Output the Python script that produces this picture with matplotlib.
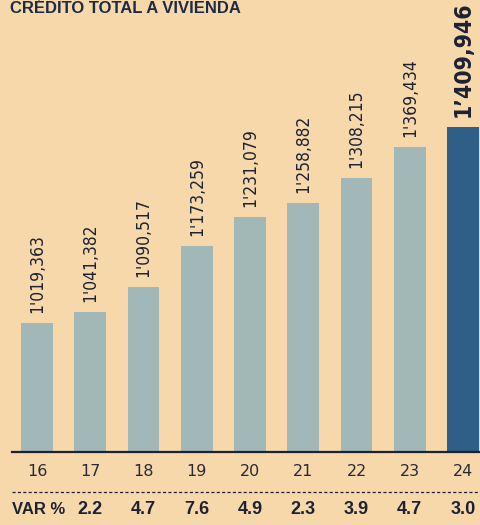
import matplotlib
matplotlib.use('Agg')
import matplotlib.pyplot as plt
import matplotlib.transforms as mtransforms
from matplotlib.lines import Line2D

# datos: credito total a vivienda por año
anios = ['16', '17', '18', '19', '20', '21', '22', '23', '24']
credito = [1019363, 1041382, 1090517, 1173259, 1231079, 1258882, 1308215, 1369434, 1409946]
etiquetas = ["1'019,363", "1'041,382", "1'090,517", "1'173,259", "1'231,079",
             "1'258,882", "1'308,215", "1'369,434", "1\u2019409,946"]
var_pct = ['2.2', '4.7', '7.6', '4.9', '2.3', '3.9', '4.7', '3.0']

FONDO = '#f6d8aa'
AZUL_CLARO = '#a2b8b8'
AZUL_OSCURO = '#2f5e86'
TINTA = '#1c2233'


def draw():
    fig = plt.figure(figsize=(4.81, 5.25), dpi=100, facecolor=FONDO)
    ax = fig.add_axes([0, 73 / 525.0, 1, 452 / 525.0])
    ax.set_facecolor(FONDO)

    x = list(range(len(credito)))
    colores = [AZUL_CLARO] * (len(credito) - 1) + [AZUL_OSCURO]
    ax.bar(x, credito, width=0.6, color=colores, align='center', zorder=2)

    ax.set_xlim(-0.695, 8.338)
    ax.set_ylim(762000, 1662750)
    for s in ax.spines.values():
        s.set_visible(False)
    ax.set_xticks([])
    ax.set_yticks([])

    # linea base
    ax.axhline(762000, xmin=12 / 481.0, xmax=1, color=TINTA, lw=1.6, zorder=3, clip_on=False)

    # etiquetas de valores
    for i, (v, lab) in enumerate(zip(credito, etiquetas)):
        ultimo = i == len(credito) - 1
        ax.annotate(lab, (i, v), xytext=(0, 7), textcoords='offset points',
                    rotation=90, ha='center', va='bottom',
                    fontsize=16.5 if ultimo else 12.5,
                    fontweight='bold' if ultimo else 'normal',
                    family='DejaVu Sans', fontstretch='condensed', color=TINTA)

    # años
    tr = ax.get_xaxis_transform()
    for i, a in enumerate(anios):
        ax.text(i, -20 / 452.0, a, transform=tr, ha='center', va='center',
                fontsize=11.5, color='#2a2a36', clip_on=False)

    # linea punteada
    fig.add_artist(Line2D([12 / 481.0, 1], [33 / 525.0, 33 / 525.0], transform=fig.transFigure,
                          color=TINTA, lw=0.9, ls=(0, (2.5, 1.8))))

    # fila VAR %
    tr2 = mtransforms.blended_transform_factory(ax.transData, fig.transFigure)
    fig.text(12 / 481.0, 15 / 525.0, 'VAR %', ha='left', va='center', fontsize=12,
             fontweight='bold', color=TINTA, family=['Liberation Sans', 'DejaVu Sans'])
    for i, p in enumerate(var_pct):
        ax.text(i + 1, 15 / 525.0, p, transform=tr2, ha='center', va='center',
                fontsize=13, fontweight='bold', color=TINTA, clip_on=False,
                family=['Liberation Sans', 'DejaVu Sans'])

    # titulo
    fig.text(10 / 481.0, 1 - 1 / 525.0, 'CRÉDITO TOTAL A VIVIENDA', ha='left', va='top',
             fontsize=12, fontweight='bold', color='#1d2a44',
             family=['Liberation Sans', 'DejaVu Sans'])

    fig.savefig('out.png', dpi=100, facecolor=FONDO)


if __name__ == '__main__':
    draw()
